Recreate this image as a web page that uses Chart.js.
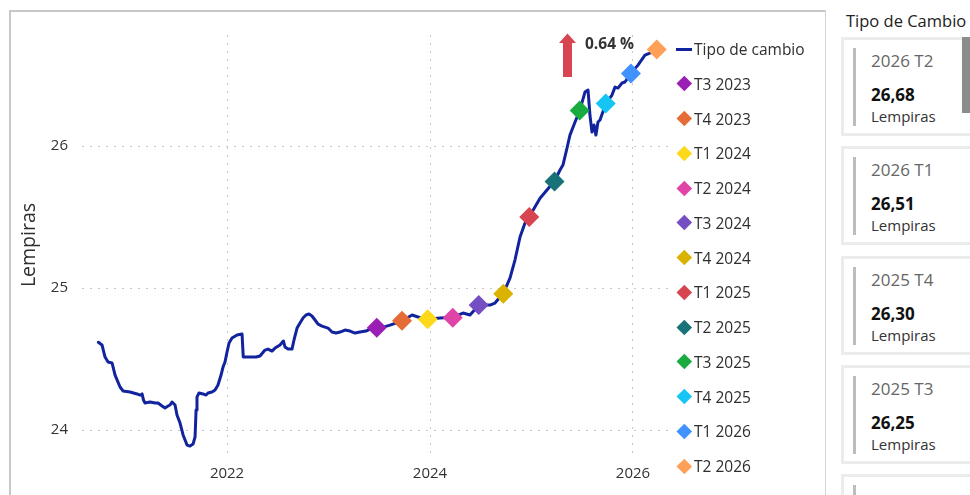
<!DOCTYPE html>
<html lang="es">
<head>
<meta charset="utf-8">
<title>Tipo de cambio</title>
<script src="https://cdn.jsdelivr.net/npm/chart.js@4.4.1/dist/chart.umd.min.js"></script>
<style>
  body { margin: 0; width: 970px; height: 495px; overflow: hidden; background: #fff; font-family: "Open Sans", sans-serif; position: relative; }
  #panel { position: absolute; left: 9px; top: 10px; width: 814px; height: 500px; border-top: 2px solid #c8c8c8; border-left: 2px solid #c8c8c8; border-right: 1px solid #d4d4d4; }
  #grafico { position: absolute; left: 0; top: 0; }
  #leyenda { position: absolute; left: 676px; top: 0; }
  .item { position: absolute; left: 0; height: 20px; display: flex; align-items: center; white-space: nowrap; font-size: 15.5px; color: #2e2e2e; }
  .simbolo { width: 16px; height: 20px; position: relative; margin-right: 2px; }
  .linea { position: absolute; left: 0; top: 8.5px; width: 16px; height: 3px; }
  .rombo { position: absolute; left: 2.7px; top: 4.7px; width: 10.6px; height: 10.6px; transform: rotate(45deg); }
  #flecha { position: absolute; left: 555px; top: 30px; }
  #variacion { position: absolute; left: 585px; top: 32px; font-size: 15.5px; font-weight: bold; color: #333; }
  #titulo-tarjetas { position: absolute; left: 846px; top: 9px; font-size: 16.5px; color: #222; white-space: nowrap; }
  .tarjeta { position: absolute; left: 841px; width: 200px; height: 93px; border: 3px solid #ececec; }
  .barra { position: absolute; left: 9px; top: 8px; width: 3px; height: 78px; background: #bdbdbd; }
  .periodo { position: absolute; left: 27px; top: 9px; font-size: 17px; color: #666; white-space: nowrap; }
  .valor { position: absolute; left: 27px; top: 43px; font-size: 17px; font-weight: bold; color: #111; }
  .unidad { position: absolute; left: 27px; top: 66px; font-size: 15px; color: #333; }
  #scroll { position: absolute; left: 962px; top: 37px; width: 8px; height: 76px; background: #8c8c8c; }
</style>
</head>
<body>
<div id="panel"></div>
<canvas id="grafico" width="826" height="495"></canvas>
<div id="leyenda"></div>
<svg id="flecha" width="26" height="50"><polygon points="12.5,3.5 21,13 17,13 17,47 8,47 8,13 4,13" fill="#D64550"/></svg>
<div id="variacion">0.64 %</div>
<div id="titulo-tarjetas">Tipo de Cambio</div>
<div id="tarjetas"></div>
<div id="scroll"></div>
<script>
// serie diaria (fecha en años decimales)
const fechas = [
  2020.732, 2020.768, 2020.798, 2020.828, 2020.867, 2020.897, 2020.946, 2020.975,
  2021.044, 2021.113, 2021.143, 2021.163, 2021.177, 2021.192, 2021.241, 2021.291,
  2021.320, 2021.360, 2021.389, 2021.419, 2021.438, 2021.458, 2021.488, 2021.507,
  2021.537, 2021.567, 2021.606, 2021.635, 2021.665, 2021.685, 2021.695, 2021.704,
  2021.724, 2021.764, 2021.793, 2021.813, 2021.852, 2021.882, 2021.911, 2021.941,
  2021.961, 2021.980, 2022.000, 2022.020, 2022.049, 2022.099, 2022.148, 2022.160,
  2022.227, 2022.286, 2022.325, 2022.374, 2022.404, 2022.443, 2022.473, 2022.522,
  2022.555, 2022.571, 2022.601, 2022.640, 2022.660, 2022.690, 2022.719, 2022.749,
  2022.778, 2022.808, 2022.837, 2022.867, 2022.897, 2022.936, 2022.995, 2023.034,
  2023.074, 2023.113, 2023.163, 2023.212, 2023.261, 2023.310, 2023.369, 2023.429,
  2023.475, 2023.540, 2023.606, 2023.724, 2023.823, 2023.882, 2023.977, 2024.099,
  2024.224, 2024.325, 2024.394, 2024.480, 2024.591, 2024.640, 2024.722, 2024.788,
  2024.837, 2024.887, 2024.936, 2024.978, 2025.084, 2025.227, 2025.281, 2025.310,
  2025.350, 2025.379, 2025.429, 2025.475, 2025.527, 2025.557, 2025.576, 2025.596,
  2025.616, 2025.635, 2025.655, 2025.675, 2025.731, 2025.793, 2025.823, 2025.852,
  2025.892, 2025.921, 2025.980, 2026.049, 2026.118, 2026.167, 2026.234
];
const tipoCambio = [
  24.618, 24.599, 24.514, 24.479, 24.472, 24.387, 24.303, 24.275,
  24.268, 24.254, 24.246, 24.254, 24.211, 24.190, 24.197, 24.190,
  24.190, 24.169, 24.155, 24.169, 24.176, 24.197, 24.176, 24.106,
  24.049, 23.965, 23.894, 23.887, 23.901, 23.951, 24.141, 24.232,
  24.261, 24.254, 24.246, 24.261, 24.268, 24.282, 24.317, 24.387,
  24.444, 24.479, 24.549, 24.613, 24.648, 24.669, 24.676, 24.514,
  24.514, 24.514, 24.521, 24.563, 24.570, 24.556, 24.577, 24.599,
  24.627, 24.585, 24.570, 24.570, 24.634, 24.718, 24.754, 24.789,
  24.810, 24.817, 24.803, 24.775, 24.746, 24.732, 24.718, 24.690,
  24.683, 24.690, 24.704, 24.697, 24.683, 24.690, 24.697, 24.718,
  24.720, 24.725, 24.739, 24.768, 24.810, 24.796, 24.780, 24.789,
  24.794, 24.824, 24.810, 24.878, 24.880, 24.894, 24.963, 25.070,
  25.197, 25.359, 25.458, 25.502, 25.632, 25.754, 25.831, 25.866,
  25.986, 26.077, 26.169, 26.249, 26.380, 26.394, 26.218, 26.099,
  26.148, 26.077, 26.169, 26.183, 26.296, 26.359, 26.415, 26.408,
  26.444, 26.451, 26.512, 26.570, 26.641, 26.655, 26.688
];

// promedios trimestrales
const trimestres = ['T3 2023', 'T4 2023', 'T1 2024', 'T2 2024', 'T3 2024', 'T4 2024',
  'T1 2025', 'T2 2025', 'T3 2025', 'T4 2025', 'T1 2026', 'T2 2026'];
const fechaTrimestre = [2023.475, 2023.724, 2023.977, 2024.224, 2024.480, 2024.722,
  2024.978, 2025.227, 2025.475, 2025.731, 2025.980, 2026.234];
const valorTrimestre = [24.72, 24.77, 24.78, 24.79, 24.88, 24.96,
  25.50, 25.75, 26.25, 26.30, 26.51, 26.68];
const coloresTrimestre = ['#9B1FB5', '#E66C37', '#FDD91A', '#E044A7', '#744EC2', '#D9B300',
  '#D64550', '#197278', '#1AAB40', '#15C6F4', '#4092FF', '#FFA058'];

const ticksX = [2022, 2024, 2026];
const ticksY = [24, 25, 26];

// tarjetas de la derecha
const tarjetaPeriodo = ['2026 T2', '2026 T1', '2025 T4', '2025 T3', ''];
const tarjetaValor = ['26,68', '26,51', '26,30', '26,25', ''];

Chart.defaults.font.family = '"Open Sans", sans-serif';

const datasets = [{
  label: 'Tipo de cambio',
  data: fechas.map((f, i) => ({ x: f, y: tipoCambio[i] })),
  showLine: true,
  borderColor: '#12239E',
  borderWidth: 3,
  borderJoinStyle: 'round',
  borderCapStyle: 'round',
  pointRadius: 0,
  order: 1
}];
trimestres.forEach((t, i) => {
  datasets.push({
    label: t,
    data: [{ x: fechaTrimestre[i], y: valorTrimestre[i] }],
    pointStyle: 'rectRot',
    pointRadius: 10,
    pointBorderWidth: 0,
    backgroundColor: coloresTrimestre[i],
    borderColor: coloresTrimestre[i],
    order: 0
  });
});

const grid = { color: '#c8c8c8', lineWidth: 1, drawTicks: false };
const border = { display: false, dash: [2, 6] };

const chart = new Chart(document.getElementById('grafico').getContext('2d'), {
  type: 'scatter',
  data: { datasets: datasets },
  options: {
    responsive: false,
    animation: false,
    layout: { padding: { left: 0, right: 158, top: 35, bottom: 0 } },
    plugins: { legend: { display: false }, tooltip: { enabled: false } },
    scales: {
      x: {
        type: 'linear',
        min: 2020.571,
        max: 2026.345,
        afterBuildTicks: s => { s.ticks = ticksX.map(v => ({ value: v })); },
        afterFit: s => { s.height = 40; },
        grid: grid,
        border: border,
        ticks: { padding: 10, color: '#333', font: { size: 15 }, maxRotation: 0, callback: v => String(v) }
      },
      y: {
        min: 23.824,
        max: 26.782,
        afterBuildTicks: s => { s.ticks = ticksY.map(v => ({ value: v })); },
        afterFit: s => { s.width = 82; },
        grid: grid,
        border: border,
        title: { display: true, text: 'Lempiras', color: '#2e2e2e', font: { size: 19.5 }, padding: { top: 18, bottom: 0 } },
        ticks: { padding: 14, color: '#333', font: { size: 15 }, callback: v => String(v) }
      }
    }
  }
});

// leyenda
const leyenda = document.getElementById('leyenda');
chart.data.datasets.forEach((ds, i) => {
  const item = document.createElement('div');
  item.className = 'item';
  item.style.top = (49 + i * 34.75 - 10) + 'px';
  const simbolo = document.createElement('div');
  simbolo.className = 'simbolo';
  const marca = document.createElement('div');
  if (i === 0) {
    marca.className = 'linea';
    marca.style.background = ds.borderColor;
  } else {
    marca.className = 'rombo';
    marca.style.background = ds.backgroundColor;
  }
  simbolo.appendChild(marca);
  item.appendChild(simbolo);
  item.appendChild(document.createTextNode(ds.label));
  leyenda.appendChild(item);
});

// tarjetas
const tarjetas = document.getElementById('tarjetas');
tarjetaPeriodo.forEach((p, i) => {
  const t = document.createElement('div');
  t.className = 'tarjeta';
  t.style.top = (37 + i * 109.3) + 'px';
  let html = '<div class="barra"></div>';
  if (p) {
    html += '<div class="periodo">' + p + '</div><div class="valor">' + tarjetaValor[i] + '</div><div class="unidad">Lempiras</div>';
  }
  t.innerHTML = html;
  tarjetas.appendChild(t);
});
</script>
</body>
</html>
